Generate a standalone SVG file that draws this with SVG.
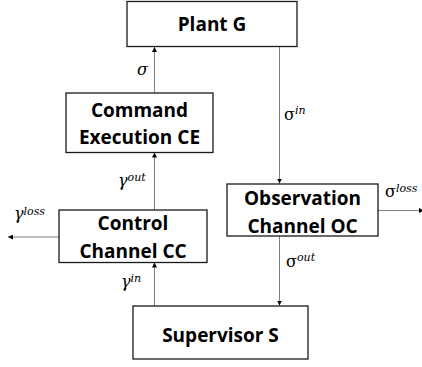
<svg xmlns="http://www.w3.org/2000/svg" width="422" height="367" viewBox="0 0 422 367">
<defs>
<style>
.box{fill:#fff;stroke:#1a1a1a;stroke-width:1.3}
.lbl{font-family:"Open Sans","Noto Sans",sans-serif;font-weight:bold;font-size:19px;fill:#000;text-anchor:middle}
.edge{fill:none;stroke:#808080;stroke-width:1}
.m{font-family:"DejaVu Serif","Liberation Serif",serif;font-size:16px;fill:#000}
.mi{font-style:italic}
.sup{font-family:"DejaVu Serif","Liberation Serif",serif;font-style:italic;font-size:11px}
</style>
<marker id="ah" viewBox="0 0 10 10" refX="10" refY="5" markerWidth="5" markerHeight="5" orient="auto" markerUnits="userSpaceOnUse">
<path d="M0,0 L10,5 L0,10 Z" fill="#000"/>
</marker>
</defs>
<rect width="422" height="367" fill="#fff"/>
<g id="connectors">
<line class="edge" x1="154.5" y1="93" x2="154.5" y2="47" marker-end="url(#ah)"/>
<line class="edge" x1="279.5" y1="46.5" x2="279.5" y2="183.5" marker-end="url(#ah)"/>
<line class="edge" x1="154.5" y1="210" x2="154.5" y2="152.5" marker-end="url(#ah)"/>
<line class="edge" x1="154.5" y1="306" x2="154.5" y2="262.5" marker-end="url(#ah)"/>
<line class="edge" x1="279.5" y1="236" x2="279.5" y2="305.5" marker-end="url(#ah)"/>
<line class="edge" x1="59" y1="237" x2="8" y2="237" marker-end="url(#ah)"/>
<line class="edge" x1="378" y1="210.5" x2="424" y2="210.5" marker-end="url(#ah)"/>
<text class="m mi" x="137" y="75">σ</text>
<text class="m" x="284" y="120">σ<tspan class="sup" dy="-6">in</tspan></text>
<text class="m mi" x="118" y="186">γ<tspan class="sup" dy="-5">out</tspan></text>
<text class="m mi" x="14" y="219">γ<tspan class="sup" dy="-4">loss</tspan></text>
<text class="m" x="385" y="197">σ<tspan class="sup" dy="-5">loss</tspan></text>
<text class="m" x="286" y="267">σ<tspan class="sup" dy="-6">out</tspan></text>
<text class="m mi" x="121" y="287">γ<tspan class="sup" dy="-5">in</tspan></text>
</g>
<g id="plant">
<rect class="box" x="127" y="1.5" width="170" height="45"/>
<text class="lbl" x="212" y="31">Plant G</text>
</g>
<g id="ce">
<rect class="box" x="66" y="93" width="147" height="59.5"/>
<text class="lbl" x="139.5" y="116.5">Command</text>
<text class="lbl" x="139.5" y="143.5">Execution CE</text>
</g>
<g id="cc">
<rect class="box" x="59" y="210" width="148" height="52.5"/>
<text class="lbl" x="133" y="229.5">Control</text>
<text class="lbl" x="133" y="257.5">Channel CC</text>
</g>
<g id="oc">
<rect class="box" x="227" y="184" width="151" height="52"/>
<text class="lbl" x="302.5" y="204.5">Observation</text>
<text class="lbl" x="302.5" y="232.5">Channel OC</text>
</g>
<g id="supervisor">
<rect class="box" x="133" y="306" width="175" height="53"/>
<text class="lbl" x="220.5" y="342">Supervisor S</text>
</g>
</svg>
